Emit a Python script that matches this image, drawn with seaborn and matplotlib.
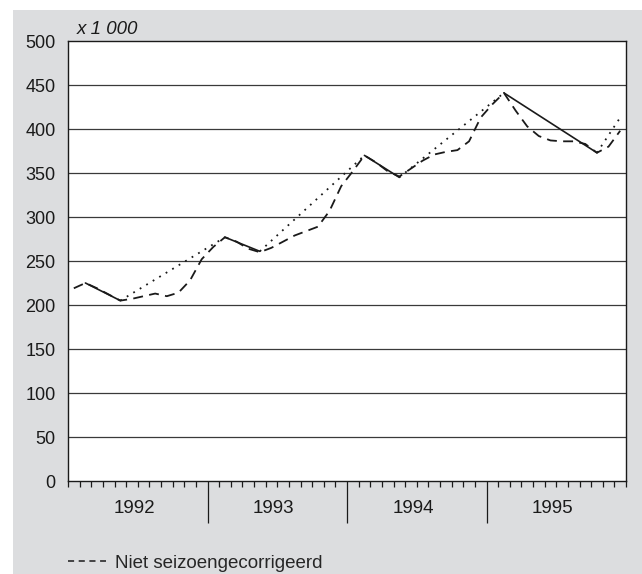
import numpy as np
import pandas as pd
import seaborn as sns
import matplotlib.pyplot as plt
from matplotlib.patches import Rectangle
from matplotlib.lines import Line2D

# monthly values 1992-1995 (x 1 000), not seasonally adjusted
monthly = [219, 225, 219, 212, 205, 207, 210, 213, 210, 214, 228, 252,
           266, 277, 272, 264, 260, 265, 272, 279, 284, 289, 307, 335,
           352, 370, 362, 352, 346, 355, 364, 371, 374, 376, 386, 413,
           428, 441, 421, 403, 392, 387, 386, 386, 383, 373, 380, 398]

# turning points (month index, value); solid = peak->trough, dotted = trough->peak
turn_months = [1, 4, 13, 16, 25, 28, 37, 45, 47]
turn_values = [225, 205, 277, 261, 370, 345, 441, 373, 413]
turn_styles = ["-", ":", "-", ":", "-", ":", "-", ":"]

years = ["1992", "1993", "1994", "1995"]
y_ticks = [0, 50, 100, 150, 200, 250, 300, 350, 400, 450, 500]

sns.set_style("white")
plt.rcParams["font.family"] = ["Liberation Sans", "DejaVu Sans"]

df = pd.DataFrame({"month": np.arange(len(monthly)), "value": monthly})

fig = plt.figure(figsize=(6.42, 5.74), dpi=100, facecolor="white")
bg = Rectangle((13 / 642, 0), 1, 1 - 10 / 574, transform=fig.transFigure,
               facecolor="#dcdddf", edgecolor="none", zorder=-5)
fig.patches.append(bg)
ax = fig.add_axes([68 / 642, 1 - 481 / 574, 558 / 642, 440 / 574])
ax.set_zorder(2)
ax.set_facecolor("white")

for yv in y_ticks[1:-1]:
    ax.axhline(yv, color="#3a3a3a", lw=0.9, zorder=1)

sns.lineplot(data=df, x="month", y="value", ax=ax, color="#1a1a1a", lw=1.3,
             linestyle=(0, (5.5, 3.5)), zorder=3)

for j, st in enumerate(turn_styles):
    seg = pd.DataFrame({"month": turn_months[j:j + 2], "value": turn_values[j:j + 2]})
    if st == ":":
        sns.lineplot(data=seg, x="month", y="value", ax=ax, color="#1a1a1a", lw=1.3,
                     linestyle=(0, (1, 3.2)), zorder=4)
    else:
        sns.lineplot(data=seg, x="month", y="value", ax=ax, color="#1a1a1a", lw=1.2, zorder=4)

ax.set_xlim(-0.5, 47.5)
ax.set_ylim(0, 500)
ax.set_xlabel("")
ax.set_ylabel("")
ax.set_yticks(y_ticks)
ax.tick_params(axis="y", length=0, pad=9, labelsize=13, colors="#1a1a1a")

ax.set_xticks([11.5, 23.5, 35.5])
ax.set_xticklabels([])
ax.set_xticks(np.arange(-0.5, 48, 1), minor=True)
ax.tick_params(axis="x", which="both", bottom=True, direction="out", color="#1a1a1a")
ax.tick_params(axis="x", which="major", length=30, width=0.9)
ax.tick_params(axis="x", which="minor", length=4, width=0.9)

for i, yr in enumerate(years):
    ax.text(5.5 + 12 * i - 0.3, -31, yr, ha="center", va="center", fontsize=13.5, color="#1a1a1a")

for sp in ax.spines.values():
    sp.set_visible(True)
    sp.set_color("#1a1a1a")
    sp.set_linewidth(1.0)

fig.text(77 / 642, 1 - 30 / 574, "x 1 000", fontsize=13.5, style="italic",
         ha="left", va="center", color="#1a1a1a")

handle = Line2D([], [], color="#1a1a1a", lw=1.1, linestyle=(0, (4, 3)))
fig.legend(handles=[handle], labels=["Niet seizoengecorrigeerd"], loc="center left",
           bbox_to_anchor=(68 / 642, 11 / 574), frameon=False, fontsize=13.5,
           handlelength=2.0, handletextpad=0.5, borderpad=0, borderaxespad=0)

fig.savefig("out.png", dpi=100, facecolor="white")
